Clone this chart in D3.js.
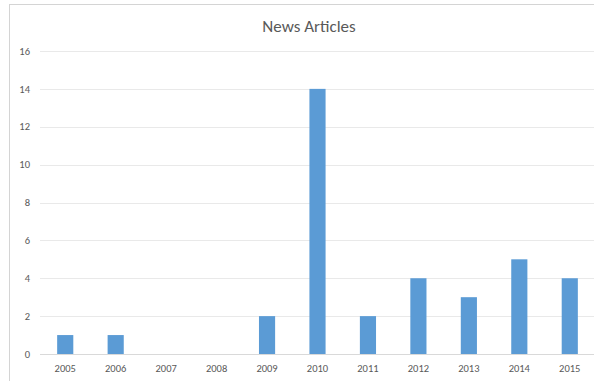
<!DOCTYPE html>
<meta charset="utf-8">
<script src="https://d3js.org/d3.v7.min.js"></script>
<style>
  body { margin: 0; background: #fff; }
  text { font-family: Calibri, Carlito, "Open Sans", sans-serif; fill: #595959; }
</style>
<div id="my_dataviz"></div>
<script>
  // data
  var years = ["2005", "2006", "2007", "2008", "2009", "2010", "2011", "2012", "2013", "2014", "2015"];
  var articles = [1, 1, 0, 0, 2, 14, 2, 4, 3, 5, 4];
  var yTicks = [0, 2, 4, 6, 8, 10, 12, 14, 16];

  var width = 594, height = 381;
  var margin = {top: 51, right: -1, bottom: 27, left: 40};

  var svg = d3.select("#my_dataviz")
    .append("svg")
      .attr("width", width)
      .attr("height", height);

  // chart frame
  svg.append("rect")
    .attr("x", 9.5)
    .attr("y", 4.5)
    .attr("width", width + 10)
    .attr("height", height + 10)
    .attr("fill", "none")
    .attr("stroke", "#d4d4d4");

  var x = d3.scaleBand()
    .domain(years)
    .range([margin.left, width - margin.right])
    .paddingInner(0.68)
    .paddingOuter(0.34);

  var y = d3.scaleLinear()
    .domain([0, 16])
    .range([height - margin.bottom, margin.top]);

  // gridlines
  svg.append("g")
    .selectAll("line")
    .data(yTicks)
    .enter()
    .append("line")
      .attr("x1", margin.left)
      .attr("x2", width)
      .attr("y1", function(d) { return Math.round(y(d)) + 0.5; })
      .attr("y2", function(d) { return Math.round(y(d)) + 0.5; })
      .attr("stroke", function(d) { return d === 0 ? "#d9d9d9" : "#e9e9e9"; })
      .attr("stroke-width", 1);

  // y labels
  svg.append("g")
    .selectAll("text")
    .data(yTicks)
    .enter()
    .append("text")
      .attr("x", 30)
      .attr("y", function(d) { return y(d); })
      .attr("dy", "0.35em")
      .attr("text-anchor", "end")
      .style("font-size", "10.5px")
      .text(function(d) { return d; });

  // bars
  svg.append("g")
    .selectAll("rect")
    .data(articles)
    .enter()
    .append("rect")
      .attr("x", function(d, i) { return x(years[i]); })
      .attr("width", x.bandwidth())
      .attr("y", function(d) { return y(d); })
      .attr("height", function(d) { return y(0) - y(d); })
      .attr("fill", "#5b9bd5");

  // x labels
  svg.append("g")
    .selectAll("text")
    .data(years)
    .enter()
    .append("text")
      .attr("x", function(d) { return x(d) + x.bandwidth() / 2; })
      .attr("y", 368)
      .attr("dy", "0.35em")
      .attr("text-anchor", "middle")
      .style("font-size", "10.5px")
      .text(function(d) { return d; });

  // title
  svg.append("text")
    .attr("x", 309)
    .attr("y", 26)
    .attr("dy", "0.35em")
    .attr("text-anchor", "middle")
    .style("font-size", "17px")
    .text("News Articles");
</script>
